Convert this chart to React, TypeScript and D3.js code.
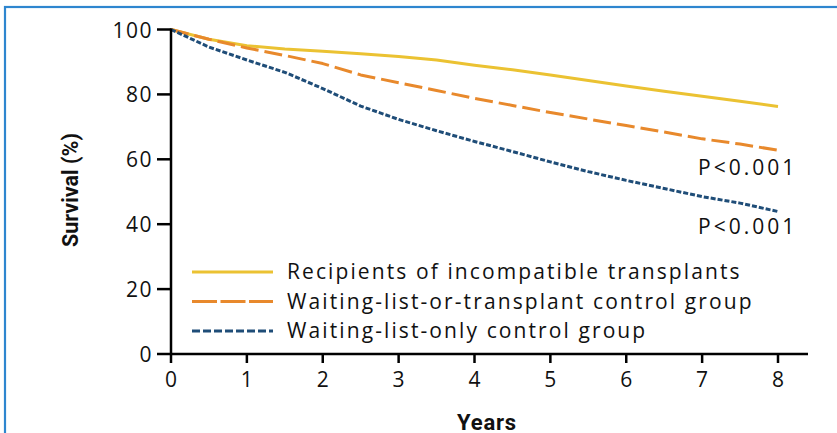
import React from "react";
import * as d3 from "d3";

// Follow-up times (years) at which survival was read
const years = [0, 0.5, 1, 1.5, 2, 2.5, 3, 3.5, 4, 4.5, 5, 5.5, 6, 6.5, 7, 7.5, 8];

// Survival (%) for each group
const recipients = [100, 97.0, 95.0, 94.0, 93.3, 92.5, 91.7, 90.6, 89.0, 87.6, 86.0, 84.3, 82.6, 81.0, 79.4, 77.9, 76.3];
const waitOrTransplant = [100, 97.0, 94.3, 92.0, 89.5, 86.0, 83.6, 81.2, 78.8, 76.6, 74.4, 72.4, 70.4, 68.4, 66.3, 64.7, 62.8];
const waitOnly = [100, 94.6, 90.6, 86.8, 81.8, 76.4, 72.3, 68.8, 65.5, 62.4, 59.2, 56.2, 53.5, 51.0, 48.5, 46.5, 43.9];

const seriesNames = [
  "Recipients of incompatible transplants",
  "Waiting-list-or-transplant control group",
  "Waiting-list-only control group",
];
const seriesValues = [recipients, waitOrTransplant, waitOnly];
const seriesColors = ["#EBC232", "#E8892C", "#1F4D78"];
const curveDash = [null, "18,6", "5,2"];
const legendDash = [null, "25,3.5", "8,3"];

const xTicks = [0, 1, 2, 3, 4, 5, 6, 7, 8];
const yTicks = [0, 20, 40, 60, 80, 100];
const pLabels = ["P<0.001", "P<0.001"];
const pLabelValues = [57.5, 39.5];

const W = 837;
const H = 433;
const FONT = "'Open Sans', sans-serif";

export default function App() {
  const x = d3.scaleLinear().domain([0, 8]).range([171, 778]);
  const y = d3.scaleLinear().domain([0, 100]).range([354, 29.5]);

  const line = d3
    .line<[number, number]>()
    .x((d) => x(d[0]))
    .y((d) => y(d[1]))
    .curve(d3.curveLinear);

  return (
    <svg
      width={W}
      height={H}
      style={{ position: "absolute", left: 0, top: 0, background: "#fff" }}
    >
      {/* panel frame */}
      <rect x={5} y={7} width={W + 20} height={H + 20} fill="#fff" stroke="#2E86CF" strokeWidth={2.2} />

      {/* survival curves */}
      {seriesValues.map((vals, i) => (
        <path
          key={i}
          d={line(years.map((t, j) => [t, vals[j]] as [number, number])) || ""}
          fill="none"
          stroke={seriesColors[i]}
          strokeWidth={3}
          strokeDasharray={curveDash[i] || undefined}
          strokeLinejoin="round"
        />
      ))}

      {/* y axis */}
      <line x1={x(0)} x2={x(0)} y1={y(100) - 1} y2={y(0) + 1} stroke="#000" strokeWidth={2.5} />
      {yTicks.map((t) => (
        <g key={t}>
          <line x1={x(0) - 14} x2={x(0)} y1={y(t)} y2={y(t)} stroke="#000" strokeWidth={2.5} />
          <text
            x={153}
            y={y(t)}
            textAnchor="end"
            dominantBaseline="central"
            fontFamily={FONT}
            fontSize={21}
            letterSpacing={1.5}
            fill="#111"
          >
            {t}
          </text>
        </g>
      ))}

      {/* x axis */}
      <line x1={x(0) - 1} x2={808} y1={y(0)} y2={y(0)} stroke="#000" strokeWidth={2.5} />
      {xTicks.map((t) => (
        <g key={t}>
          <line x1={x(t)} x2={x(t)} y1={y(0)} y2={y(0) + 9} stroke="#000" strokeWidth={2.5} />
          <text
            x={x(t)}
            y={379}
            textAnchor="middle"
            dominantBaseline="central"
            fontFamily={FONT}
            fontSize={21}
            fill="#111"
          >
            {t}
          </text>
        </g>
      ))}

      {/* axis titles */}
      <text
        x={487}
        y={422}
        textAnchor="middle"
        dominantBaseline="central"
        fontFamily="Roboto, sans-serif"
        fontWeight={700}
        fontSize={22}
        letterSpacing={0.8}
        fill="#111"
      >
        Years
      </text>
      <text
        transform={`translate(70,190) rotate(-90)`}
        textAnchor="middle"
        dominantBaseline="central"
        fontFamily="Roboto, sans-serif"
        fontWeight={700}
        fontSize={21.5}
        fill="#111"
      >
        Survival (%)
      </text>

      {/* p-values */}
      {pLabels.map((p, i) => (
        <text
          key={i}
          x={698}
          y={y(pLabelValues[i])}
          dominantBaseline="central"
          fontFamily={FONT}
          fontSize={21}
          letterSpacing={3}
          fill="#111"
        >
          {p}
        </text>
      ))}

      {/* legend */}
      {seriesNames.map((name, i) => {
        const ly = 271 + i * 29.5;
        return (
          <g key={name}>
            <line
              x1={192}
              x2={273}
              y1={ly + 1}
              y2={ly + 1}
              stroke={seriesColors[i]}
              strokeWidth={3}
              strokeDasharray={legendDash[i] || undefined}
            />
            <text
              x={287}
              y={ly}
              dominantBaseline="central"
              fontFamily={FONT}
              fontSize={21}
              letterSpacing={2.1}
              fill="#111"
            >
              {name}
            </text>
          </g>
        );
      })}
    </svg>
  );
}
